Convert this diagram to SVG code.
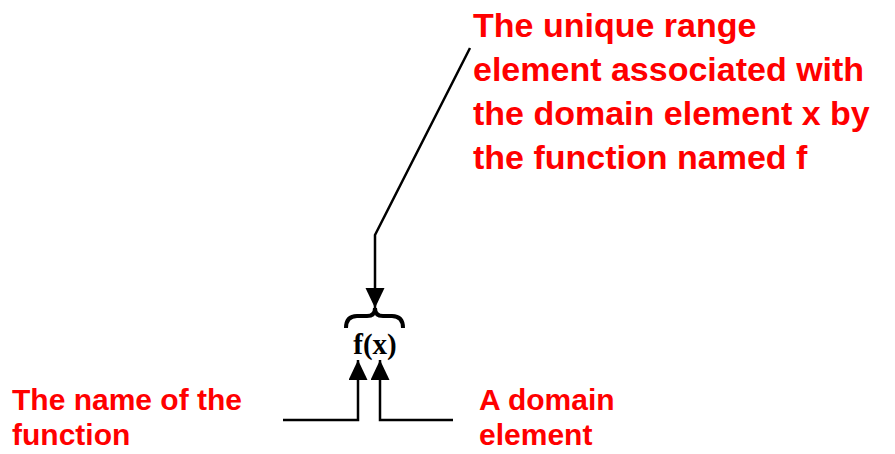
<svg xmlns="http://www.w3.org/2000/svg" width="895" height="454" viewBox="0 0 895 454">
<style>
.lbl{font-family:"Liberation Sans",Arial,sans-serif;font-weight:bold;fill:#ff0000}
.big{font-size:34px}
.small{font-size:30px}
.conn{fill:none;stroke:#000;stroke-width:2.5}
.fx{font-family:"Liberation Serif","Times New Roman",serif;font-weight:bold;font-size:29px;fill:#000}
</style>
<defs>
<marker id="arr" markerUnits="userSpaceOnUse" markerWidth="20" markerHeight="22" refX="20" refY="9.5" orient="auto">
<path d="M0,0 L20,9.5 L0,19 Z" fill="#000"/>
</marker>
</defs>
<rect width="895" height="454" fill="#fff"/>
<g id="range-label">
<text class="lbl big" x="473" y="37">The unique range</text>
<text class="lbl big" x="473" y="81">element associated with</text>
<text class="lbl big" x="473" y="125">the domain element x by</text>
<text class="lbl big" x="473" y="169">the function named f</text>
</g>
<g id="fx-node">
<path d="M346,328 Q346,316 357,316 L367,316 Q375,316 375,308 Q375,316 383,316 L392,316 Q403,316 403,328" fill="none" stroke="#000" stroke-width="4"/>
<text class="fx" x="375" y="354" text-anchor="middle">f(x)</text>
</g>
<g id="name-label">
<text class="lbl small" x="12" y="410">The name of the</text>
<text class="lbl small" x="12" y="445">function</text>
</g>
<g id="domain-label">
<text class="lbl small" x="479" y="410">A domain</text>
<text class="lbl small" x="479" y="445">element</text>
</g>
<g id="connectors">
<polyline class="conn" points="470,48 375,235 375,308" marker-end="url(#arr)"/>
<polyline class="conn" points="283,420 358,420 358,360" marker-end="url(#arr)"/>
<polyline class="conn" points="453,420 380,420 380,360" marker-end="url(#arr)"/>
</g>
</svg>
